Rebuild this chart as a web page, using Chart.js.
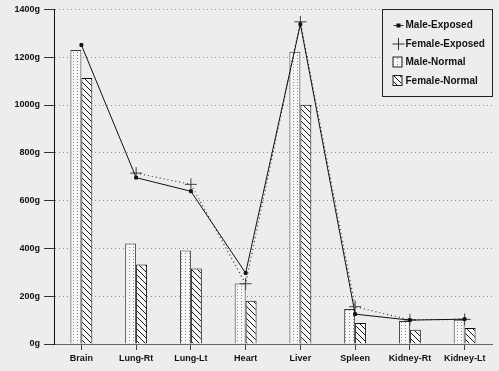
<!DOCTYPE html>
<html>
<head>
<meta charset="utf-8">
<script src="https://cdn.jsdelivr.net/npm/chart.js@4/dist/chart.umd.min.js"></script>
<style>
  html, body { margin: 0; padding: 0; background: #ededed; }
  #wrap { width: 499px; height: 371px; position: relative; }
</style>
</head>
<body>
<div id="wrap"><canvas id="organChart"></canvas></div>
<script>
const categories = ["Brain", "Lung-Rt", "Lung-Lt", "Heart", "Liver", "Spleen", "Kidney-Rt", "Kidney-Lt"];

const maleExposed = [1251, 696, 639, 297, 1338, 125, 100, 104];
const femaleExposed = [null, 715, 668, 252, 1348, 156, 101, 103];
const maleNormal = [1230, 420, 391, 253, 1223, 146, 96, 101];
const femaleNormal = [1113, 333, 316, 181, 1001, 88, 60, 67];

const yTicks = [0, 200, 400, 600, 800, 1000, 1200, 1400];

const BG = "#ededed";
const FONT = "'Liberation Sans', Arial, sans-serif";

// fill patterns for the bars
function dotPattern() {
  const c = document.createElement("canvas");
  c.width = 4; c.height = 3;
  const g = c.getContext("2d");
  g.fillStyle = "#f6f6f6";
  g.fillRect(0, 0, 4, 3);
  g.fillStyle = "#8a8a8a";
  g.fillRect(1, 1, 1, 1);
  return g.createPattern(c, "repeat");
}

function hatchPattern() {
  const c = document.createElement("canvas");
  c.width = 6; c.height = 6;
  const g = c.getContext("2d");
  g.fillStyle = "#f6f6f6";
  g.fillRect(0, 0, 6, 6);
  g.strokeStyle = "#1a1a1a";
  g.lineWidth = 1;
  g.beginPath();
  g.moveTo(-1, -1); g.lineTo(7, 7);
  g.moveTo(-1, 5); g.lineTo(1, 7);
  g.moveTo(5, -1); g.lineTo(7, 1);
  g.stroke();
  return g.createPattern(c, "repeat");
}

const dots = dotPattern();
const hatch = hatchPattern();

const background = {
  id: "background",
  beforeDraw(chart) {
    const ctx = chart.ctx;
    ctx.save();
    ctx.fillStyle = BG;
    ctx.fillRect(0, 0, chart.width, chart.height);
    ctx.restore();
  }
};

// boxed legend in the top right corner
const boxLegend = {
  id: "boxLegend",
  afterDraw(chart) {
    const ctx = chart.ctx;
    const area = chart.chartArea;
    const w = 110, h = 87;
    const x = Math.round(area.right - w) + 0.5;
    const y = Math.round(area.top) + 0.5;
    ctx.save();
    ctx.fillStyle = BG;
    ctx.fillRect(x, y, w, h);
    ctx.strokeStyle = "#222";
    ctx.lineWidth = 1;
    ctx.strokeRect(x, y, w, h);
    ctx.font = "bold 10px " + FONT;
    ctx.textBaseline = "middle";
    ctx.fillStyle = "#111";
    chart.data.datasets.forEach((ds, i) => {
      const cy = y + 16 + i * 18.5;
      const sx = x + 16;
      if (ds.type === "line") {
        ctx.strokeStyle = "#333";
        ctx.beginPath();
        if (ds.pointStyle === "rect") {
          ctx.moveTo(sx - 5, cy); ctx.lineTo(sx + 5, cy);
          ctx.stroke();
          ctx.fillStyle = "#111";
          ctx.fillRect(sx - 2, cy - 2, 4, 4);
        } else {
          ctx.moveTo(sx - 6, cy); ctx.lineTo(sx + 6, cy);
          ctx.moveTo(sx, cy - 6); ctx.lineTo(sx, cy + 6);
          ctx.stroke();
        }
      } else {
        ctx.fillStyle = ds.backgroundColor;
        ctx.fillRect(sx - 5, cy - 5, 8, 9);
        ctx.strokeStyle = "#222";
        ctx.strokeRect(sx - 5.5, cy - 5.5, 9, 10);
      }
      ctx.fillStyle = "#111";
      ctx.fillText(ds.label, x + 23, cy);
    });
    ctx.restore();
  }
};

const data = {
  labels: categories,
  datasets: [
    {
      type: "line",
      label: "Male-Exposed",
      data: maleExposed,
      borderColor: "#111",
      borderWidth: 1,
      pointStyle: "rect",
      pointRadius: 2,
      pointBackgroundColor: "#111",
      pointBorderColor: "#111",
      tension: 0
    },
    {
      type: "line",
      label: "Female-Exposed",
      data: femaleExposed,
      borderColor: "#333",
      borderWidth: 1.2,
      borderDash: [1, 3],
      pointStyle: "cross",
      pointRadius: 6,
      pointBorderColor: "#444",
      pointBorderWidth: 1,
      tension: 0
    },
    {
      type: "bar",
      label: "Male-Normal",
      data: maleNormal,
      backgroundColor: dots,
      borderColor: "#333",
      borderWidth: 1,
      borderSkipped: "bottom"
    },
    {
      type: "bar",
      label: "Female-Normal",
      data: femaleNormal,
      backgroundColor: hatch,
      borderColor: "#111",
      borderWidth: 1,
      borderSkipped: "bottom"
    }
  ]
};

const config = {
  type: "bar",
  data: data,
  plugins: [background, boxLegend],
  options: {
    responsive: true,
    maintainAspectRatio: false,
    animation: false,
    layout: { padding: { top: 9, right: 4, left: 0, bottom: 0 } },
    datasets: {
      bar: { categoryPercentage: 0.4, barPercentage: 1.0 }
    },
    plugins: {
      legend: { display: false },
      tooltip: { enabled: false }
    },
    scales: {
      x: {
        offset: true,
        grid: {
          display: true,
          drawOnChartArea: false,
          drawTicks: true,
          tickLength: 6,
          offset: false,
          tickColor: "#444"
        },
        border: { display: true, color: "#666", width: 1 },
        ticks: {
          color: "#111",
          padding: 3,
          maxRotation: 0,
          autoSkip: false,
          font: { family: FONT, size: 9, weight: "bold" }
        },
        afterFit(scale) { scale.height = 27; }
      },
      y: {
        min: 0,
        max: 1400,
        afterBuildTicks(scale) {
          scale.ticks = yTicks.map(v => ({ value: v }));
        },
        grid: {
          color: "#8a8a8a",
          lineWidth: 1,
          tickLength: 10,
          tickColor: "#333"
        },
        border: { display: true, color: "#111", width: 1, dash: [1, 3] },
        ticks: {
          color: "#111",
          padding: 4,
          font: { family: FONT, size: 9, weight: "bold" },
          callback: v => v + "g"
        },
        afterFit(scale) { scale.width = 54; }
      }
    }
  }
};

let organChart = new Chart(document.getElementById("organChart"), config);
</script>
</body>
</html>
